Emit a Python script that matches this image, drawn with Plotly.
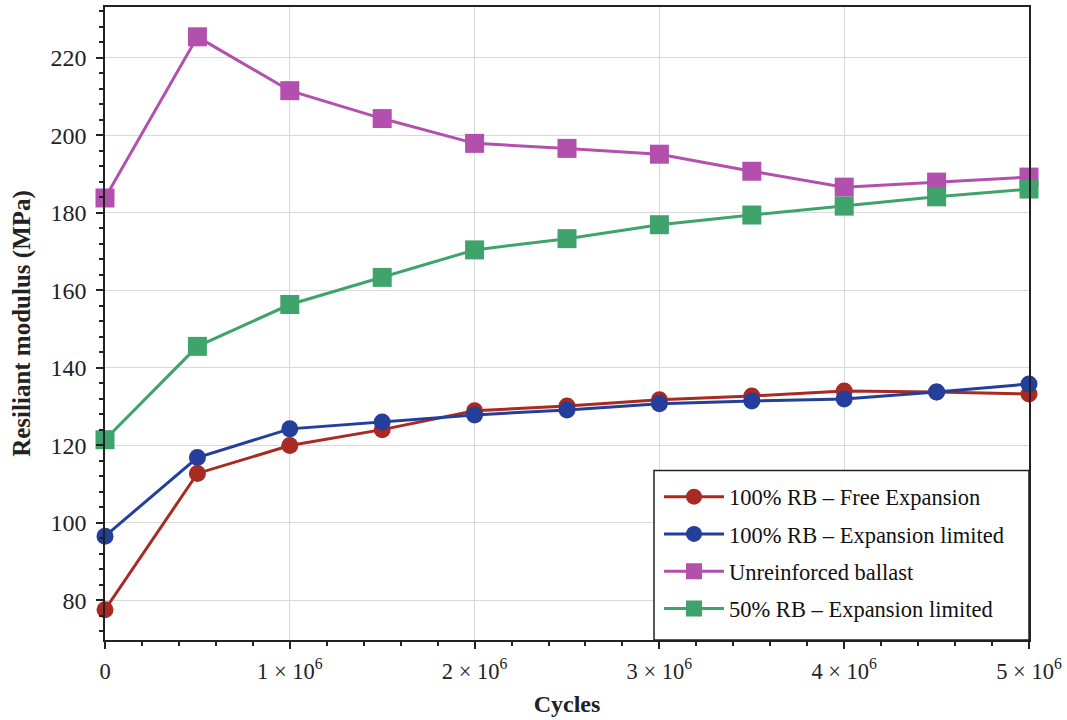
import plotly.graph_objects as go

cycles = [0, 0.5e6, 1e6, 1.5e6, 2e6, 2.5e6, 3e6, 3.5e6, 4e6, 4.5e6, 5e6]
free_exp = [77.5, 112.7, 119.9, 124.0, 128.9, 130.1, 131.7, 132.7, 134.0, 133.7, 133.2]
exp_limited = [96.5, 116.8, 124.2, 126.0, 127.8, 129.1, 130.7, 131.4, 131.9, 133.7, 135.8]
unreinforced = [183.8, 225.4, 211.5, 204.3, 197.9, 196.6, 195.1, 190.7, 186.6, 187.9, 189.2]
rb50_limited = [121.4, 145.5, 156.3, 163.3, 170.4, 173.3, 176.9, 179.4, 181.7, 184.1, 186.1]

x_tickvals = [0, 1e6, 2e6, 3e6, 4e6, 5e6]
x_ticktext = ["0", "1 × 10<sup>6</sup>", "2 × 10<sup>6</sup>", "3 × 10<sup>6</sup>",
              "4 × 10<sup>6</sup>", "5 × 10<sup>6</sup>"]
y_tickvals = [80, 100, 120, 140, 160, 180, 200, 220]

series = [
    ("100% RB – Free Expansion", free_exp, "#A92A22", "circle", 17),
    ("100% RB – Expansion limited", exp_limited, "#243E9C", "circle", 17),
    ("Unreinforced ballast", unreinforced, "#B34FAD", "square", 19),
    ("50% RB – Expansion limited", rb50_limited, "#3EA46B", "square", 19),
]

fig = go.Figure()
for i, (name, vals, color, sym, size) in enumerate(series):
    fig.add_trace(go.Scatter(
        x=cycles, y=vals, name=name, mode="lines+markers",
        line=dict(color=color, width=3),
        marker=dict(symbol=sym, size=size, color=color),
        cliponaxis=False, legendgroup=f"g{i}",
    ))

# opaque legend frame (covers grid like the reference)
fig.add_shape(type="rect", xref="paper", yref="paper",
              x0=(654 - 105) / 924, x1=1, y0=0, y1=(640 - 470) / 635,
              fillcolor="white", line=dict(color="#222", width=1.5), layer="above")

font_family = "Liberation Serif, DejaVu Serif, serif"
fig.update_layout(
    width=1067, height=720,
    margin=dict(l=105, r=38, t=5, b=80),
    paper_bgcolor="white", plot_bgcolor="white",
    font=dict(family=font_family, size=22, color="#222"),
    legend=dict(
        x=(659 - 105) / 924, y=(640 - 475) / 635, xanchor="left", yanchor="top",
        bgcolor="rgba(0,0,0,0)", borderwidth=0,
        font=dict(size=22.5, family=font_family, color="#111"),
        itemwidth=60, tracegroupgap=5,
    ),
    showlegend=True,
)
fig.update_xaxes(
    range=[0, 5e6], tickvals=x_tickvals, ticktext=x_ticktext,
    showgrid=True, gridcolor="#d9d9d9", gridwidth=1,
    showline=True, linecolor="#222", linewidth=1.5, mirror=True,
    ticks="outside", ticklen=7, tickcolor="#222", tickwidth=1.5,
    minor=dict(dtick=2e5, ticks="outside", ticklen=4, tickcolor="#222", showgrid=False),
    zeroline=False, ticklabelstandoff=3,
    title=dict(text="<b>Cycles</b>", font=dict(size=24), standoff=12),
    tickfont=dict(size=22.5),
)
fig.update_yaxes(
    range=[69.7, 233.1], tickvals=y_tickvals,
    showgrid=True, gridcolor="#d9d9d9", gridwidth=1,
    showline=True, linecolor="#222", linewidth=1.5, mirror=True,
    ticks="outside", ticklen=7, tickcolor="#222", tickwidth=1.5,
    minor=dict(tick0=0, dtick=4, ticks="outside", ticklen=4, tickcolor="#222", showgrid=False),
    zeroline=False, ticklabelstandoff=5,
    title=dict(text="<b>Resiliant modulus (MPa)</b>", font=dict(size=25), standoff=13),
    tickfont=dict(size=24),
)
fig.write_html("out.html", post_script="document.body.style.margin='0';",
               config={"displayModeBar": False})
